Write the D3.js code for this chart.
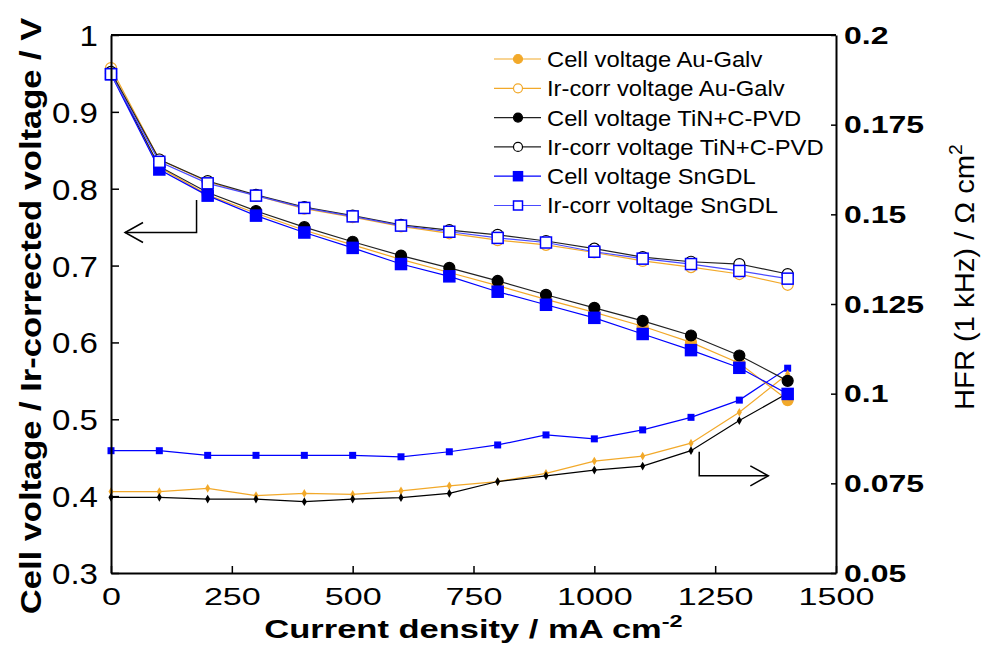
<!DOCTYPE html>
<html>
<head>
<meta charset="utf-8">
<script src="https://cdn.jsdelivr.net/npm/d3@7"></script>
<style>
  body { margin: 0; background: #fff; }
  svg { display: block; font-family: "Liberation Sans", Arial, sans-serif; }
</style>
</head>
<body>
<div id="chart"></div>
<script>
// current density (mA cm-2)
const current = [0, 100, 200, 300, 400, 500, 600, 700, 800, 900, 1000, 1100, 1200, 1300, 1400];

// cell voltage and Ir-corrected voltage (V), left axis
const cellAu  = [0.952, 0.828, 0.792, 0.768, 0.746, 0.727, 0.708, 0.691, 0.674, 0.656, 0.639, 0.621, 0.600, 0.573, 0.525];
const irAu    = [0.957, 0.838, 0.809, 0.791, 0.774, 0.763, 0.751, 0.742, 0.733, 0.727, 0.717, 0.706, 0.698, 0.689, 0.675];
const cellTiN = [0.950, 0.829, 0.795, 0.771, 0.750, 0.731, 0.713, 0.697, 0.680, 0.662, 0.645, 0.628, 0.609, 0.583, 0.550];
const irTiN   = [0.952, 0.838, 0.810, 0.792, 0.776, 0.765, 0.753, 0.746, 0.740, 0.732, 0.722, 0.711, 0.705, 0.702, 0.689];
const cellSn  = [0.949, 0.825, 0.791, 0.765, 0.743, 0.723, 0.702, 0.686, 0.666, 0.649, 0.632, 0.611, 0.590, 0.567, 0.533];
const irSn    = [0.949, 0.835, 0.807, 0.791, 0.775, 0.764, 0.752, 0.744, 0.736, 0.730, 0.718, 0.709, 0.702, 0.693, 0.683];

// HFR at 1 kHz (Ohm cm2), right axis
const hfrAu  = [0.0727, 0.0727, 0.0736, 0.0716, 0.0722, 0.0719, 0.0729, 0.0743, 0.0755, 0.0778, 0.0812, 0.0826, 0.0862, 0.0948, 0.1055];
const hfrTiN = [0.0711, 0.0711, 0.0706, 0.0706, 0.0699, 0.0706, 0.0710, 0.0722, 0.0755, 0.0771, 0.0787, 0.0798, 0.0841, 0.0925, 0.1001];
const hfrSn  = [0.0841, 0.0841, 0.0828, 0.0828, 0.0828, 0.0828, 0.0824, 0.0838, 0.0857, 0.0885, 0.0874, 0.0899, 0.0934, 0.0982, 0.1071];

const xTicks  = [0, 250, 500, 750, 1000, 1250, 1500];
const yTicks  = [0.3, 0.4, 0.5, 0.6, 0.7, 0.8, 0.9, 1];
const y2Ticks = [0.05, 0.075, 0.1, 0.125, 0.15, 0.175, 0.2];

const legendLabels = [
    "Cell voltage Au-Galv",
    "Ir-corr voltage Au-Galv",
    "Cell voltage TiN+C-PVD",
    "Ir-corr voltage TiN+C-PVD",
    "Cell voltage SnGDL",
    "Ir-corr voltage SnGDL"
];

const ORANGE = "#f2a92a", BLACK = "#000", BLUE = "#0000ff";

const W = 982, H = 661;
const margin = { top: 35, right: 146, bottom: 88, left: 111 };
const width  = W - margin.left - margin.right;
const height = H - margin.top - margin.bottom;

const svg = d3.select("#chart").append("svg")
    .attr("width", W)
    .attr("height", H);

const g = svg.append("g")
    .attr("transform", `translate(${margin.left},${margin.top})`);

const x  = d3.scaleLinear().domain([0, 1500]).range([0, width]);
const y  = d3.scaleLinear().domain([0.3, 1]).range([height, 0]);
const y2 = d3.scaleLinear().domain([0.05, 0.2]).range([height, 0]);

// widen text like the source picture
function stretch(sel, k) {
    sel.each(function() {
        const len = this.getComputedTextLength();
        d3.select(this).attr("textLength", len * k).attr("lengthAdjust", "spacingAndGlyphs");
    });
}

// series: voltage ones first, drawn in legend order
const series = [
    { vals: cellAu,  sc: y, color: ORANGE, line: ORANGE,    shape: "circle", fill: true },
    { vals: irAu,    sc: y, color: ORANGE, line: ORANGE,    shape: "circle", fill: false },
    { vals: cellTiN, sc: y, color: BLACK,  line: "#222",    shape: "circle", fill: true },
    { vals: irTiN,   sc: y, color: BLACK,  line: "#222",    shape: "circle", fill: false },
    { vals: cellSn,  sc: y, color: BLUE,   line: BLUE,      shape: "square", fill: true },
    { vals: irSn,    sc: y, color: BLUE,   line: "#4a4aff", shape: "square", fill: false }
];

const hfrSeries = [
    { vals: hfrSn,  color: BLUE,   shape: "square" },
    { vals: hfrAu,  color: ORANGE, shape: "dot" },
    { vals: hfrTiN, color: BLACK,  shape: "dot" }
];

// HFR lines (small markers)
hfrSeries.forEach(s => {
    const pts = current.map((c, i) => [c, s.vals[i]]);
    g.append("path")
        .datum(pts)
        .attr("fill", "none")
        .attr("stroke", s.color)
        .attr("stroke-width", 1.2)
        .attr("d", d3.line().x(d => x(d[0])).y(d => y2(d[1])));
    if (s.shape === "square") {
        g.selectAll(null).data(pts).enter().append("rect")
            .attr("x", d => x(d[0]) - 3.5)
            .attr("y", d => y2(d[1]) - 3.5)
            .attr("width", 7).attr("height", 7)
            .attr("fill", s.color);
    } else {
        g.selectAll(null).data(pts).enter().append("path")
            .attr("transform", d => `translate(${x(d[0])},${y2(d[1])})`)
            .attr("d", d3.symbol(d3.symbolDiamond, 22))
            .attr("fill", s.color);
    }
});

function drawMarkers(sel, s) {
    if (s.shape === "circle") {
        sel.append("circle")
            .attr("r", 5.5)
            .attr("fill", s.fill ? s.color : "#fff")
            .attr("stroke", s.color)
            .attr("stroke-width", 1.2);
    } else {
        sel.append("rect")
            .attr("x", -5.5).attr("y", -5.5)
            .attr("width", 11).attr("height", 11)
            .attr("fill", s.fill ? s.color : "#fff")
            .attr("stroke", s.color)
            .attr("stroke-width", 1.5);
    }
}

series.forEach(s => {
    const pts = current.map((c, i) => [c, s.vals[i]]);
    g.append("path")
        .datum(pts)
        .attr("fill", "none")
        .attr("stroke", s.line)
        .attr("stroke-width", 1.2)
        .attr("d", d3.line().x(d => x(d[0])).y(d => s.sc(d[1])));
    const m = g.selectAll(null).data(pts).enter().append("g")
        .attr("transform", d => `translate(${x(d[0])},${s.sc(d[1])})`);
    drawMarkers(m, s);
});

// frame + axes
g.append("line")
    .attr("x1", 0).attr("x2", width).attr("y1", 0).attr("y2", 0)
    .attr("stroke", "#000").attr("stroke-width", 2);

const xAxis = g.append("g")
    .attr("transform", `translate(0,${height})`)
    .call(d3.axisBottom(x).tickValues(xTicks).tickSizeInner(-7).tickSizeOuter(0).tickPadding(15)
        .tickFormat(d3.format("d")));

const yAxis = g.append("g")
    .call(d3.axisLeft(y).tickValues(yTicks).tickSizeInner(-8).tickSizeOuter(0).tickPadding(13)
        .tickFormat(d3.format("")));

const y2Axis = g.append("g")
    .attr("transform", `translate(${width},0)`)
    .call(d3.axisRight(y2).tickValues(y2Ticks).tickSizeInner(-5).tickSizeOuter(0).tickPadding(8)
        .tickFormat(d3.format("")));

[xAxis, yAxis, y2Axis].forEach(a => {
    a.select(".domain").attr("stroke-width", 2);
    a.selectAll(".tick line").attr("stroke-width", 1.5);
    a.selectAll("text").attr("fill", "#000").style("font-family", "'Liberation Sans', Arial, sans-serif");
});

xAxis.selectAll("text").style("font-size", "24px");
stretch(xAxis.selectAll("text"), 1.42);

yAxis.selectAll("text").style("font-size", "29px").attr("dy", "0.36em");
stretch(yAxis.selectAll("text"), 1.14);

y2Axis.selectAll("text").style("font-size", "23px").style("font-weight", "bold")
    .attr("text-anchor", "start").attr("dy", "0.36em");
stretch(y2Axis.selectAll("text"), 1.39);

// axis titles
const xTitle = svg.append("text")
    .attr("x", margin.left + width / 2)
    .attr("y", 638)
    .attr("text-anchor", "middle")
    .style("font-size", "25px")
    .style("font-weight", "bold");
xTitle.append("tspan").text("Current density / mA cm");
xTitle.append("tspan").attr("dy", -11).style("font-size", "17px").text("-2");
stretch(xTitle, 1.38);

const yTitle = svg.append("text")
    .attr("transform", "translate(41,316) rotate(-90)")
    .attr("text-anchor", "middle")
    .style("font-size", "29px")
    .style("font-weight", "bold")
    .text("Cell voltage / Ir-corrected voltage / V");
stretch(yTitle, 1.19);

const y2Title = svg.append("text")
    .attr("transform", "translate(974,277) rotate(-90)")
    .attr("text-anchor", "middle")
    .style("font-size", "27px");
y2Title.append("tspan").text("HFR (1 kHz) / \u03a9 cm");
y2Title.append("tspan").attr("dy", -12).style("font-size", "18px").text("2");
stretch(y2Title, 1.08);

// legend
const legend = svg.append("g").attr("transform", "translate(494,59)");
const rows = legend.selectAll(null).data(series).enter().append("g")
    .attr("transform", (d, i) => `translate(0,${i * 29.3})`);
rows.append("line")
    .attr("x1", 0).attr("x2", 47)
    .attr("stroke", d => d.line).attr("stroke-width", 1.2);
const rm = rows.append("g").attr("transform", "translate(24,0)");
rm.each(function(s) {
    const sel = d3.select(this);
    if (s.shape === "circle") {
        sel.append("circle").attr("r", 4.5)
            .attr("fill", s.fill ? s.color : "#fff").attr("stroke", s.color).attr("stroke-width", 1.2);
    } else {
        sel.append("rect").attr("x", -4.5).attr("y", -4.5).attr("width", 9).attr("height", 9)
            .attr("fill", s.fill ? s.color : "#fff").attr("stroke", s.color).attr("stroke-width", 1.5);
    }
});
const lt = rows.append("text")
    .attr("x", 53).attr("dy", "0.36em")
    .style("font-size", "22px")
    .text((d, i) => legendLabels[i]);
stretch(lt, 1.08);

// arrows pointing at the axis each group belongs to
function arrow(pts, sx, sy) {
    const p = pts.map(d => [x(d[0]), sy(d[1])]);
    g.append("path")
        .attr("d", d3.line()(p))
        .attr("fill", "none").attr("stroke", "#000").attr("stroke-width", 1.5);
    const [tx, ty] = p[p.length - 1];
    const dir = Math.sign(tx - p[p.length - 2][0]);
    g.append("path")
        .attr("d", d3.line()([[tx - dir * 18, ty - 10], [tx, ty], [tx - dir * 18, ty + 10]]))
        .attr("fill", "none").attr("stroke", "#000").attr("stroke-width", 1.5);
}
arrow([[177, 0.7854], [177, 0.743], [29, 0.743]], x, y);
arrow([[1217, 0.0838], [1217, 0.0771], [1360, 0.0771]], x, y2);
</script>
</body>
</html>
